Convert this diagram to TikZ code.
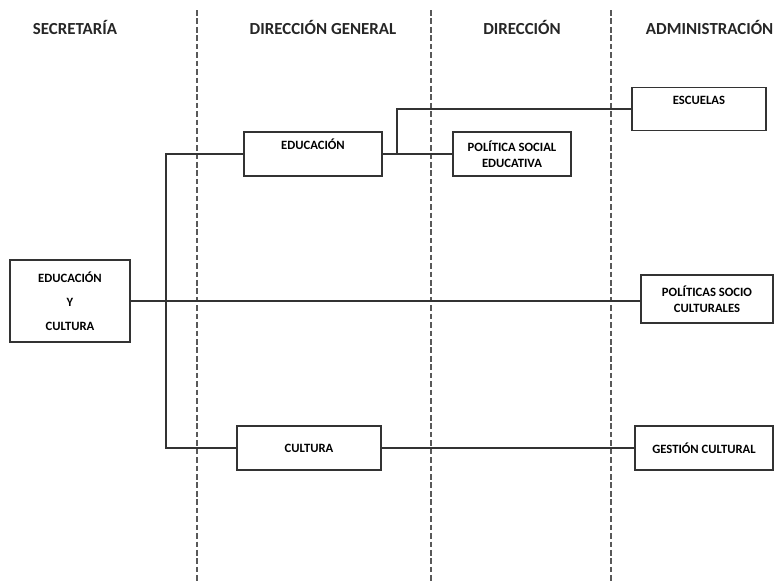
\documentclass[tikz,border=0pt]{standalone}
\usepackage{fontspec}
\setmainfont{Carlito}
\usetikzlibrary{positioning}
\tikzset{
    block/.style = {draw=black!80, rectangle, line width=0.8pt,
        inner sep=2pt, align=center,
        font=\fontsize{9}{11}\selectfont\bfseries},
    toptext/.style = {text depth=#1},
    header/.style = {font=\fontsize{12}{14}\selectfont\bfseries, text=black!85},
    divider/.style = {draw=black!65, line width=0.8pt, dash pattern=on 4pt off 2pt},
    link/.style = {draw=black!80, line width=0.8pt},
}
\begin{document}
\begin{tikzpicture}[x=0.025cm, y=-0.025cm]
	\useasboundingbox (0,0) rectangle (775,581);
	
	% column headers
	\node (hSecre) [header] at (75,27) {SECRETARÍA};
	\node (hDirGen) [header] at (323,27) {DIRECCIÓN GENERAL};
	\node (hDir) [header] at (522,27) {DIRECCIÓN};
	\node (hAdmin) [header, anchor=east, inner xsep=1pt] at (775,27) {ADMINISTRACIÓN};
	
	% column dividers
	\draw [divider] (197,10) -- (197,581);
	\draw [divider] (431,10) -- (431,581);
	\draw [divider] (611,10) -- (611,581);
	
	% diagram blocks
	\node (edcCult) [block, minimum width=3cm, minimum height=2.05cm] at (70,301) {EDUCACIÓN\\[6pt] Y\\[6pt] CULTURA};
	
	\node (educ) [block, toptext=14pt, minimum width=3.45cm, minimum height=1.1cm] at (313,154) {EDUCACIÓN};
	\node (cult) [block, minimum width=3.6cm, minimum height=1.1cm] at (309,448) {CULTURA};
	
	\node (polSocEdu) [block, minimum width=2.95cm, minimum height=1.1cm] at (512,154) {POLÍTICA SOCIAL\\ EDUCATIVA};
	
	\node (escuelas) [block, toptext=12pt, minimum width=3.35cm, minimum height=1.08cm] at (699,109) {ESCUELAS};
	\node (polSocCult) [block, minimum width=3.3cm, minimum height=1.2cm] at (707,299) {POLÍTICAS SOCIO\\ CULTURALES};
	\node (gestCult) [block, minimum width=3.45cm, minimum height=1.1cm] at (704,448) {GESTIÓN CULTURAL};
	
	% junction points
	\coordinate (trunk) at (166,301);
	\coordinate (fork) at (397,154);
	
	% edges
	\draw [link] (edcCult.east) -- (edcCult.east -| polSocCult.west);
	\draw [link] (educ.west) -| (trunk) |- (cult.west);
	\draw [link] (educ.east) -- (polSocEdu.west);
	\draw [link] (fork) |- (escuelas.west);
	\draw [link] (cult.east) -- (gestCult.west);
	
\end{tikzpicture}
\end{document}
